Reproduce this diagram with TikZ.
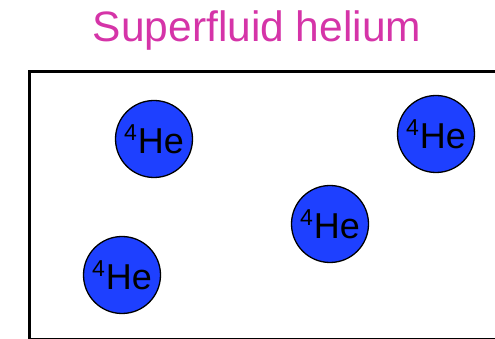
\documentclass[tikz,border=0pt]{standalone}
\usepackage{fontspec}
\setmainfont{Liberation Sans}
\usetikzlibrary{positioning}
\definecolor{titlepink}{RGB}{213,52,168}
\definecolor{atomblue}{RGB}{30,64,255}
\newcommand{\heliumfour}{\raisebox{13pt}{\fontsize{23}{24}\selectfont 4}\kern1pt He}
\tikzset{
  atom/.style = {circle, draw = black, line width = 1.3pt, fill = atomblue,
                 minimum size = 77pt, inner sep = 0pt, font = \fontsize{36}{38}\selectfont},
  heading/.style = {text = titlepink, font = \fontsize{42.5}{46}\selectfont, anchor = base}
}
\begin{document}
\begin{tikzpicture}[x = 1pt, y = 1pt]
        % frame of the page
        \clip (0,0) rectangle (495,339);
        \useasboundingbox (0,0) rectangle (495,339);
        % title
        \node[heading] (title) at (257,297) {Superfluid helium};
        % container
        \coordinate(TL) at (29.5,267);
        \coordinate(BR) at (510,-1);
        \path[draw, line width = 3pt] (TL) rectangle (BR);
        % helium atoms
        \node[atom] (heA) at (154,200) {\heliumfour};
        \node[atom] (heB) at (436,205) {\heliumfour};
        \node[atom] (heC) at (330,115) {\heliumfour};
        \node[atom] (heD) at (122,64) {\heliumfour};
    \end{tikzpicture}
\end{document}
